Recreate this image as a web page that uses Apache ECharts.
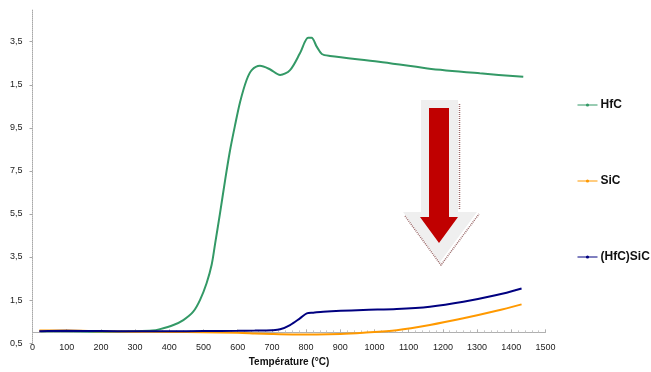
<!DOCTYPE html>
<html>
<head>
<meta charset="utf-8">
<script src="https://cdn.jsdelivr.net/npm/echarts@6/dist/echarts.min.js"></script>
<style>
html,body{margin:0;padding:0;background:#fff;}
#chart{width:651px;height:372px;}
</style>
</head>
<body>
<div id="chart"></div>
<script>
// Series names
const seriesNames = ["HfC", "SiC", "(HfC)SiC"];

// HfC
const hfcT = [25, 100, 200, 300, 350, 373, 412, 441, 470, 490, 509, 524, 534, 548, 563, 577, 592, 607, 626, 641, 665, 694, 724, 753, 782, 806, 816, 831, 846, 870, 1013, 1155, 1308, 1435];
const hfcV = [0.05, 0.05, 0.03, 0.05, 0.08, 0.15, 0.34, 0.57, 0.96, 1.51, 2.28, 3.15, 4.12, 5.5, 7.05, 8.4, 9.6, 10.7, 11.72, 12.18, 12.38, 12.22, 11.95, 12.18, 12.96, 13.68, 13.68, 13.27, 12.93, 12.84, 12.57, 12.26, 12.03, 11.87];

// SiC
const sicT = [20, 100, 200, 300, 400, 500, 600, 650, 700, 760, 831, 900, 967, 1065, 1162, 1260, 1357, 1430];
const sicV = [0.08, 0.08, 0.05, 0.03, 0.02, 0.0, -0.02, -0.05, -0.08, -0.1, -0.1, -0.08, -0.02, 0.1, 0.34, 0.65, 1.0, 1.3];

// (HfC)SiC
const hsT = [20, 100, 200, 300, 400, 500, 600, 650, 700, 724, 753, 782, 802, 821, 850, 967, 1065, 1162, 1260, 1357, 1430];
const hsV = [0.05, 0.07, 0.06, 0.05, 0.05, 0.06, 0.07, 0.08, 0.1, 0.14, 0.34, 0.65, 0.88, 0.91, 0.96, 1.04, 1.08, 1.19, 1.42, 1.73, 2.04];

// Axis ticks / labels
const yTickValues = [-0.5, 1.5, 3.5, 5.5, 7.5, 9.5, 11.5, 13.5];
const yTickLabels = ["0,5", "1,5", "3,5", "5,5", "7,5", "9,5", "1,5", "3,5"];
const xAxisTitle = "Température (°C)";

const colors = ["#339966", "#FF9900", "#000080"];

function pairs(t, v) { return t.map((x, i) => [x, v[i]]); }

const chart = echarts.init(document.getElementById('chart'), null, {renderer: 'canvas'});
const font = 'Liberation Sans, Arial, sans-serif';

function lineSeries(i, t, v) {
  return {
    name: seriesNames[i], type: 'line', data: pairs(t, v),
    smooth: 0.3, showSymbol: false, symbol: 'circle', symbolSize: 3,
    lineStyle: {color: colors[i], width: 2}, itemStyle: {color: colors[i]}
  };
}

chart.setOption({
  animation: false,
  backgroundColor: '#ffffff',
  grid: {left: 32.5, right: 105.5, top: 9.4, bottom: 28.9, containLabel: false, outerBoundsMode: 'none'},
  legend: {
    orient: 'vertical',
    left: 572,
    top: 94,
    itemGap: 64,
    itemWidth: 20,
    itemHeight: 4,
    data: seriesNames,
    lineStyle: {width: 1},
    textStyle: {fontFamily: font, fontSize: 12, fontWeight: 'bold', color: '#111', padding: [0,0,0,-2]}
  },
  xAxis: {
    type: 'value',
    min: 0, max: 1500, interval: 100,
    name: xAxisTitle,
    nameLocation: 'middle',
    nameGap: 14,
    nameMoveOverlap: false,
    nameTextStyle: {fontFamily: font, fontSize: 10, fontWeight: 'bold', color: '#111'},
    axisLine: {onZero: true, lineStyle: {color: '#b0b0b0', width: 1}},
    axisTick: {show: true, length: 3, inside: true, lineStyle: {color: '#b0b0b0'}},
    minorTick: {show: true, splitNumber: 5, length: 2, lineStyle: {color: '#c8c8c8'}},
    axisLabel: {fontFamily: font, fontSize: 9, color: '#222', margin: 0,
      formatter: function (v) { return String(v); }},
    splitLine: {show: false}
  },
  yAxis: {
    type: 'value',
    min: -0.5, max: 15,
    axisLine: {show: true, lineStyle: {color: '#a8a8a8', type: 'dotted', width: 1}},
    axisTick: {show: true, length: 3, customValues: yTickValues, lineStyle: {color: '#a8a8a8'}},
    axisLabel: {
      fontFamily: font, fontSize: 9, color: '#222', margin: 10,
      customValues: yTickValues,
      formatter: function (v) {
        const i = yTickValues.findIndex(t => Math.abs(t - v) < 1e-6);
        return i >= 0 ? yTickLabels[i] : '';
      }
    },
    splitLine: {show: false}
  },
  series: [
    lineSeries(0, hfcT, hfcV),
    lineSeries(1, sicT, sicV),
    lineSeries(2, hsT, hsV)
  ],
  graphic: [
    {type: 'polygon', silent: true, z: 10,
     shape: {points: [[421,100],[458,100],[458,212],[477,212],[440,262],[403,212],[421,212]]},
     style: {fill: '#efefef'}},
    {type: 'polyline', silent: true, z: 11,
     shape: {points: [[459.5,104],[459.5,210]]},
     style: {stroke: '#9a6a6a', lineWidth: 1.5, lineDash: [1,1], fill: null}},
    {type: 'polyline', silent: true, z: 11,
     shape: {points: [[405,216],[441,265],[479,214]]},
     style: {stroke: '#9a6a6a', lineWidth: 1.5, lineDash: [1,1], fill: null}},
    {type: 'polygon', silent: true, z: 12,
     shape: {points: [[429,108],[449,108],[449,217],[458,217],[439,243],[420,217],[429,217]]},
     style: {fill: '#c00000'}}
  ]
});
</script>
</body>
</html>
